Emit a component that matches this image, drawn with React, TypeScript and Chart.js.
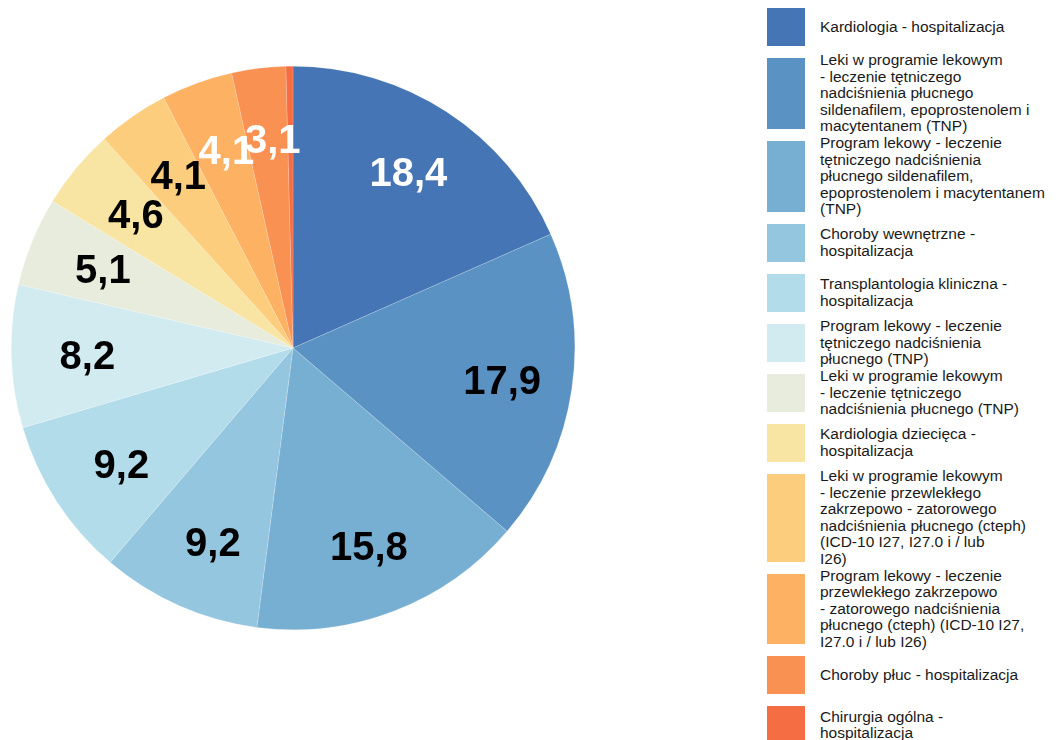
import React, { useEffect, useRef } from "react";
import { Chart, registerables } from "chart.js";

Chart.register(...registerables);

const categories: string[] = [
  "Kardiologia - hospitalizacja",
  "Leki w programie lekowym\n- leczenie tętniczego\nnadciśnienia płucnego\nsildenafilem, epoprostenolem i\nmacytentanem (TNP)",
  "Program lekowy - leczenie\ntętniczego nadciśnienia\npłucnego sildenafilem,\nepoprostenolem i macytentanem\n(TNP)",
  "Choroby wewnętrzne -\nhospitalizacja",
  "Transplantologia kliniczna -\nhospitalizacja",
  "Program lekowy - leczenie\ntętniczego nadciśnienia\npłucnego (TNP)",
  "Leki w programie lekowym\n- leczenie tętniczego\nnadciśnienia płucnego (TNP)",
  "Kardiologia dziecięca -\nhospitalizacja",
  "Leki w programie lekowym\n- leczenie przewlekłego\nzakrzepowo - zatorowego\nnadciśnienia płucnego (cteph)\n(ICD-10 I27, I27.0 i / lub\nI26)",
  "Program lekowy - leczenie\nprzewlekłego zakrzepowo\n- zatorowego nadciśnienia\npłucnego (cteph) (ICD-10 I27,\nI27.0 i / lub I26)",
  "Choroby płuc - hospitalizacja",
  "Chirurgia ogólna -\nhospitalizacja",
];

const values: number[] = [18.4, 17.9, 15.8, 9.2, 9.2, 8.2, 5.1, 4.6, 4.1, 4.1, 3.1, 0.4];

const colors: string[] = [
  "#4575b4",
  "#5b92c4",
  "#77afd3",
  "#95c6df",
  "#b2dcea",
  "#d2ebf1",
  "#e8ecdc",
  "#f8e4a3",
  "#fccd7d",
  "#fdb163",
  "#f99153",
  "#f46d43",
];

const labelColors: string[] = [
  "#ffffff", "#000000", "#000000", "#000000", "#000000", "#000000",
  "#000000", "#000000", "#000000", "#ffffff", "#ffffff", "#ffffff",
];

const FONT = '"Liberation Sans", Arial, Helvetica, sans-serif';

// formatted like "%4.1f" with a decimal comma
const fmt = (v: number) => v.toFixed(1).replace(".", ",").padStart(4, " ");

const labelPlugin = {
  id: "sliceLabels",
  afterDatasetsDraw(chart: any) {
    const meta = chart.getDatasetMeta(0);
    const ctx = chart.ctx;
    ctx.save();
    ctx.font = `bold 40px ${FONT}`;
    ctx.textAlign = "center";
    ctx.textBaseline = "middle";
    meta.data.forEach((arc: any, i: number) => {
      const v = values[i];
      if (v < 1) return;
      const { x, y, startAngle, endAngle, outerRadius } = arc.getProps(
        ["x", "y", "startAngle", "endAngle", "outerRadius"],
        true
      );
      const mid = (startAngle + endAngle) / 2;
      const r = outerRadius * 0.75;
      ctx.fillStyle = labelColors[i];
      ctx.fillText(fmt(v), x + Math.cos(mid) * r, y + Math.sin(mid) * r + 4);
    });
    ctx.restore();
  },
};

export default function App() {
  const canvasRef = useRef<HTMLCanvasElement | null>(null);

  useEffect(() => {
    if (!canvasRef.current) return;
    const chart = new Chart(canvasRef.current, {
      type: "pie",
      data: {
        labels: categories,
        datasets: [
          {
            data: values,
            backgroundColor: colors,
            borderColor: "rgba(255,255,255,0.35)",
            borderWidth: 0.5,
          },
        ],
      },
      options: {
        responsive: false,
        animation: false,
        maintainAspectRatio: false,
        layout: { padding: 0 },
        plugins: {
          legend: { display: false },
          tooltip: { enabled: false },
        },
      },
      plugins: [labelPlugin],
    });
    return () => chart.destroy();
  }, []);

  return (
    <div
      style={{
        position: "relative",
        width: 1058,
        height: 740,
        overflow: "hidden",
        background: "#ffffff",
        fontFamily: FONT,
      }}
    >
      <style>{"html,body{margin:0;padding:0;overflow:hidden;}"}</style>
      <canvas
        ref={canvasRef}
        width={564}
        height={564}
        style={{ position: "absolute", left: 11, top: 66, width: 564, height: 564 }}
      />
      <div style={{ position: "absolute", left: 767, top: 8, width: 291 }}>
        {categories.map((c, i) => (
          <div
            key={i}
            style={{
              display: "flex",
              alignItems: "center",
              marginBottom: 12,
            }}
          >
            <div
              style={{
                width: 38,
                minHeight: 38,
                alignSelf: "stretch",
                background: colors[i],
                flex: "0 0 38px",
              }}
            />
            <div
              style={{
                marginLeft: 15,
                marginTop: -6,
                marginBottom: -6,
                fontSize: 15.5,
                lineHeight: "16.6px",
                color: "#1a1a1a",
                whiteSpace: "pre",
              }}
            >
              {c}
            </div>
          </div>
        ))}
      </div>
    </div>
  );
}
